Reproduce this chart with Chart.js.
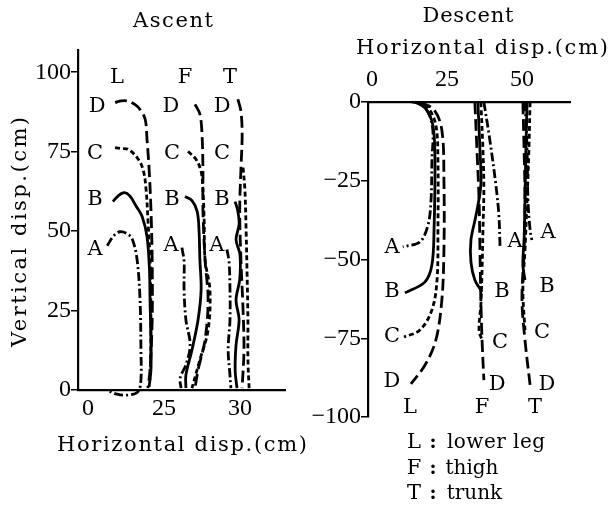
<!DOCTYPE html>
<html>
<head>
<meta charset="utf-8">
<script src="https://cdn.jsdelivr.net/npm/chart.js@4.4.1/dist/chart.umd.min.js"></script>
<style>
  html, body { margin: 0; padding: 0; background: #fff; }
  #wrap { position: relative; width: 611px; height: 512px; }
  #wrap canvas { position: absolute; left: 0; top: 0; }
</style>
</head>
<body>
<div id="wrap">
  <canvas id="ascent" width="611" height="512"></canvas>
  <canvas id="descent" width="611" height="512"></canvas>
</div>
<script>
// ---- Ascent: trajectories [horizontal, vertical] in cm ----
const ascLowerLegA = [[6.3,45.4],[8.5,48.6],[10.5,49.8],[12.8,49.2],[14.5,47.6],[16.1,41.3],[17.1,28.7],[17.4,12.9],[17.4,3.2],[16.4,-0.6],[13.0,-1.6],[9.5,-1.3],[6.6,-0.3]];
const ascLowerLegB = [[8.2,59.3],[10.0,61.2],[12.0,62.1],[13.8,61.0],[15.8,57.9],[17.8,54.6],[19.4,48.3],[20.2,38.0],[20.4,28.4],[20.7,15.0],[20.7,6.3],[20.1,1.0]];
const ascLowerLegC = [[8.9,76.3],[11.0,76.0],[13.2,75.7],[16.1,73.2],[18.1,69.4],[19.1,63.1],[19.7,53.6],[20.4,41.0],[20.7,22.1],[20.6,10.0],[20.4,3.2]];
const ascLowerLegD = [[8.9,90.5],[11.0,91.0],[13.2,90.9],[15.5,89.8],[17.1,88.3],[18.8,85.2],[19.4,78.9],[20.1,69.4],[20.7,56.8],[21.1,41.0],[21.1,22.1],[20.4,6.3],[19.7,0.6]];

const ascThighA = [[30.9,44.8],[31.6,40.4],[31.6,31.5],[32.2,22.1],[33.6,14.2],[32.2,7.9],[30.3,3.8],[30.6,0.6]];
const ascThighB = [[31.9,60.9],[34.2,59.6],[35.9,56.2],[36.5,50.5],[36.8,41.0],[37.2,31.5],[36.2,22.1],[34.2,12.6],[32.2,4.7],[32.2,0.6]];
const ascThighC = [[32.9,75.1],[35.5,72.6],[37.2,68.8],[37.8,63.1],[38.2,53.6],[38.5,41.0],[40.1,31.5],[39.5,18.9],[36.8,9.5],[34.2,0.6]];
const ascThighD = [[35.2,89.9],[36.8,86.8],[37.5,80.4],[37.8,69.4],[37.8,56.8],[38.5,41.0],[39.5,28.4],[38.5,15.8],[36.2,6.3],[35.2,0.6]];

const ascTrunkA = [[45.7,44.2],[46.4,40.4],[46.7,31.5],[46.7,22.1],[46.1,12.6],[46.7,4.7],[47.0,0.6]];
const ascTrunkB = [[48.4,59.3],[49.3,56.2],[49.7,52.1],[48.7,47.3],[50.0,42.6],[49.9,34.7],[48.7,28.4],[49.7,22.1],[48.7,14.2],[48.4,6.3],[49.0,0.6]];
const ascTrunkC = [[51.0,70.0],[51.6,63.1],[52.0,50.5],[52.3,37.9],[52.6,22.1],[52.6,9.5],[53.0,0.6]];
const ascTrunkD = [[49.3,91.5],[50.3,87.7],[50.7,80.4],[50.3,69.4],[49.9,56.8],[50.3,41.0],[51.0,25.2],[51.3,12.6],[50.7,0.6]];

// ---- Descent: trajectories [horizontal, vertical] in cm ----
const desLowerLegA = [[13.3,0],[16.0,-0.6],[18.7,-3.2],[20.3,-8.9],[20.0,-18.4],[19.7,-31.1],[18.7,-39.0],[16.0,-44.4],[10.3,-46.0]];
const desLowerLegB = [[14.3,0],[17.7,-1.9],[20.3,-7.3],[21.0,-18.4],[20.7,-40.6],[20.0,-51.7],[17.7,-57.1],[11.0,-60.6]];
const desLowerLegC = [[15.0,0],[18.7,-1.9],[21.3,-7.3],[22.0,-18.4],[22.0,-40.6],[21.7,-56.5],[20.0,-66.0],[16.0,-72.4],[10.7,-74.6]];
const desLowerLegD = [[16.0,0],[20.7,-2.5],[23.3,-8.9],[24.0,-24.8],[24.0,-47.0],[23.3,-62.9],[21.3,-75.6],[17.7,-83.5],[13.0,-89.5]];

const desThighA = [[37.3,0],[39.3,-12.1],[41.3,-26.3],[42.3,-35.9],[42.7,-46.3]];
const desThighB = [[35.3,0],[36.0,-15.2],[36.3,-26.3],[34.7,-35.9],[33.0,-43.8],[33.0,-50.8],[34.3,-56.5],[36.7,-60.3]];
const desThighC = [[36.3,0],[37.0,-15.2],[37.3,-27.9],[37.0,-40.6],[36.7,-53.3],[36.3,-64.4],[35.7,-72.4],[36.7,-75.6]];
const desThighD = [[34.3,0],[35.0,-15.2],[35.7,-31.1],[36.0,-47.0],[36.3,-62.9],[36.7,-75.6],[37.3,-88.3]];

const desTrunkA = [[51.0,0],[51.7,-15.2],[52.0,-31.1],[52.7,-40.6],[53.3,-43.8]];
const desTrunkB = [[51.7,0],[51.3,-15.2],[51.0,-31.1],[50.7,-43.8],[50.3,-51.7],[51.0,-56.5]];
const desTrunkC = [[52.7,0],[52.3,-15.2],[51.7,-31.1],[51.0,-47.0],[50.3,-59.7],[51.0,-72.4]];
const desTrunkD = [[50.3,0],[50.7,-15.2],[51.0,-31.1],[50.7,-47.0],[50.0,-62.9],[51.0,-75.6],[52.7,-89.8]];

// ---- Tick values and their printed labels ----
const ascXTicks = [0, 25, 50];
const ascXTickLabels = ['0', '25', '30'];
const ascYTicks = [0, 25, 50, 75, 100];
const ascYTickLabels = ['0', '25', '50', '75', '100'];
const desXTicks = [0, 25, 50];
const desXTickLabels = ['0', '25', '50'];
const desYTicks = [0, -25, -50, -75, -100];
const desYTickLabels = ['0', '\u221225', '\u221250', '\u221275', '\u2212100'];

// ---- Curve tags: [text, x, y] in data units ----
const ascTags = [
  ['L', 9.5, 98.4], ['F', 31.9, 98.4], ['T', 46.7, 98.4],
  ['D', 3.0, 89.3], ['C', 2.3, 74.4], ['B', 2.3, 59.9], ['A', 2.3, 44.2],
  ['D', 27.3, 89.3], ['C', 27.6, 74.4], ['B', 27.6, 59.9], ['A', 27.3, 45.4],
  ['D', 44.1, 89.3], ['C', 44.1, 74.4], ['B', 44.1, 59.9], ['A', 42.4, 45.4]
];
const desTags = [
  ['L', 12.7, -97.1], ['F', 36.7, -97.1], ['T', 54.3, -97.1],
  ['A', 6.7, -46.3], ['B', 6.7, -60.3], ['C', 6.7, -74.6], ['D', 6.7, -88.9],
  ['A', 47.7, -44.4], ['B', 43.3, -60.3], ['C', 42.7, -76.5], ['D', 41.7, -89.8],
  ['A', 58.7, -41.6], ['B', 58.3, -58.7], ['C', 56.7, -73.3], ['D', 58.3, -89.8]
];

// ---- Key ----
const keyLetters = ['L', 'F', 'T'];
const keyNames = ['lower leg', 'thigh', 'trunk'];

// ---- Styling ----
const SERIF = '"DejaVu Serif", "Liberation Serif", serif';
const DIGITS = '"Liberation Serif", "DejaVu Serif", serif';
const phaseDash = { A: [9, 3, 2, 3], B: [], C: [5, 3], D: [12, 5] };

function curve(points, phase) {
  return {
    data: points.map(p => ({ x: p[0], y: p[1] })),
    borderColor: '#000',
    borderWidth: 2.8,
    borderDash: phaseDash[phase],
    pointRadius: 0,
    tension: 0.35,
    fill: false,
    clip: false
  };
}

function drawSpaced(ctx, text, cx, cy, width, font, angle) {
  ctx.save();
  ctx.font = font;
  ctx.fillStyle = '#000';
  ctx.textBaseline = 'middle';
  ctx.textAlign = 'left';
  ctx.letterSpacing = '0px';
  const natural = ctx.measureText(text).width;
  const gaps = Math.max(text.length - 1, 1);
  const spacing = width ? Math.max(0, (width - natural) / gaps) : 0;
  ctx.letterSpacing = spacing + 'px';
  ctx.translate(cx, cy);
  if (angle) ctx.rotate(angle);
  ctx.fillText(text, -(natural + spacing * gaps) / 2, 0);
  ctx.restore();
}

function tagPlugin(tags) {
  return {
    id: 'curveTags',
    afterDatasetsDraw(chart) {
      const { ctx, scales } = chart;
      ctx.save();
      ctx.font = '21px ' + SERIF;
      ctx.fillStyle = '#000';
      ctx.textAlign = 'center';
      ctx.textBaseline = 'middle';
      tags.forEach(([t, x, y]) => {
        ctx.fillText(t, scales.x.getPixelForValue(x), scales.y.getPixelForValue(y));
      });
      ctx.restore();
    }
  };
}

function axisBase(ticks, labels, fit) {
  return {
    type: 'linear',
    afterBuildTicks: s => { s.ticks = ticks.map(v => ({ value: v })); },
    afterFit: fit,
    ticks: {
      autoSkip: false,
      maxRotation: 0,
      color: '#000',
      font: { family: DIGITS, size: 24 },
      callback: v => { const i = ticks.indexOf(v); return i >= 0 ? labels[i] : ''; }
    },
    border: { display: true, color: '#000', width: 2.2 }
  };
}

// ---- Ascent chart ----
const ascX = axisBase(ascXTicks, ascXTickLabels, s => { s.height = 40; });
Object.assign(ascX, { min: -3.3, max: 64.8, position: 'bottom',
  grid: { display: true, drawOnChartArea: false, drawTicks: false } });
ascX.ticks.padding = 4;

const ascY = axisBase(ascYTicks, ascYTickLabels, s => { s.width = 78; });
Object.assign(ascY, { min: 0, max: 107, position: 'left',
  grid: { display: true, drawOnChartArea: false, drawTicks: true, tickLength: 7, color: '#000', lineWidth: 1.5 } });
ascY.ticks.padding = 0;

new Chart(document.getElementById('ascent'), {
  type: 'line',
  data: {
    datasets: [
      curve(ascLowerLegA, 'A'), curve(ascLowerLegB, 'B'), curve(ascLowerLegC, 'C'), curve(ascLowerLegD, 'D'),
      curve(ascThighA, 'A'), curve(ascThighB, 'B'), curve(ascThighC, 'C'), curve(ascThighD, 'D'),
      curve(ascTrunkA, 'A'), curve(ascTrunkB, 'B'), curve(ascTrunkC, 'C'), curve(ascTrunkD, 'D')
    ]
  },
  options: {
    responsive: false,
    animation: false,
    layout: { padding: { left: 0, right: 326, top: 50, bottom: 82 } },
    plugins: { legend: { display: false }, tooltip: { enabled: false } },
    scales: { x: ascX, y: ascY }
  },
  plugins: [tagPlugin(ascTags), {
    id: 'ascentText',
    afterDraw(chart) {
      const ctx = chart.ctx;
      drawSpaced(ctx, 'Ascent', 173, 22, 80, '21px ' + SERIF);
      drawSpaced(ctx, 'Vertical disp.(cm)', 21, 232, 230, '21px ' + SERIF, -Math.PI / 2);
      drawSpaced(ctx, 'Horizontal disp.(cm)', 182, 446, 250, '21px ' + SERIF);
    }
  }]
});

// ---- Descent chart ----
const desX = axisBase(desXTicks, desXTickLabels, s => { s.height = 40; });
Object.assign(desX, { min: -1.3, max: 66, position: 'top',
  grid: { display: true, drawOnChartArea: false, drawTicks: false } });
desX.ticks.padding = 8;

const desY = axisBase(desYTicks, desYTickLabels, s => { s.width = 368; });
Object.assign(desY, { min: -100, max: 0, position: 'left',
  grid: { display: true, drawOnChartArea: false, drawTicks: true, tickLength: 7, color: '#000', lineWidth: 1.5 } });
desY.ticks.padding = 0;

new Chart(document.getElementById('descent'), {
  type: 'line',
  data: {
    datasets: [
      curve(desLowerLegA, 'A'), curve(desLowerLegB, 'B'), curve(desLowerLegC, 'C'), curve(desLowerLegD, 'D'),
      curve(desThighA, 'A'), curve(desThighB, 'B'), curve(desThighC, 'C'), curve(desThighD, 'D'),
      curve(desTrunkA, 'A'), curve(desTrunkB, 'B'), curve(desTrunkC, 'C'), curve(desTrunkD, 'D')
    ]
  },
  options: {
    responsive: false,
    animation: false,
    layout: { padding: { left: 0, right: 41, top: 62, bottom: 95 } },
    plugins: { legend: { display: false }, tooltip: { enabled: false } },
    scales: { x: desX, y: desY }
  },
  plugins: [tagPlugin(desTags), {
    id: 'descentText',
    afterDraw(chart) {
      const ctx = chart.ctx;
      drawSpaced(ctx, 'Descent', 468, 17, 91, '21px ' + SERIF);
      drawSpaced(ctx, 'Horizontal disp.(cm)', 482, 49, 252, '21px ' + SERIF);
      const rows = [443, 469, 494];
      const nameWidths = [98, 50, 55];
      keyLetters.forEach((k, i) => {
        drawSpaced(ctx, k, 414, rows[i], 0, '21px ' + SERIF);
        drawSpaced(ctx, ':', 433, rows[i], 0, 'bold 19px ' + SERIF);
        const w = nameWidths[i];
        drawSpaced(ctx, keyNames[i], 447 + w / 2, rows[i], w, '20px ' + SERIF);
      });
    }
  }]
});
</script>
</body>
</html>
